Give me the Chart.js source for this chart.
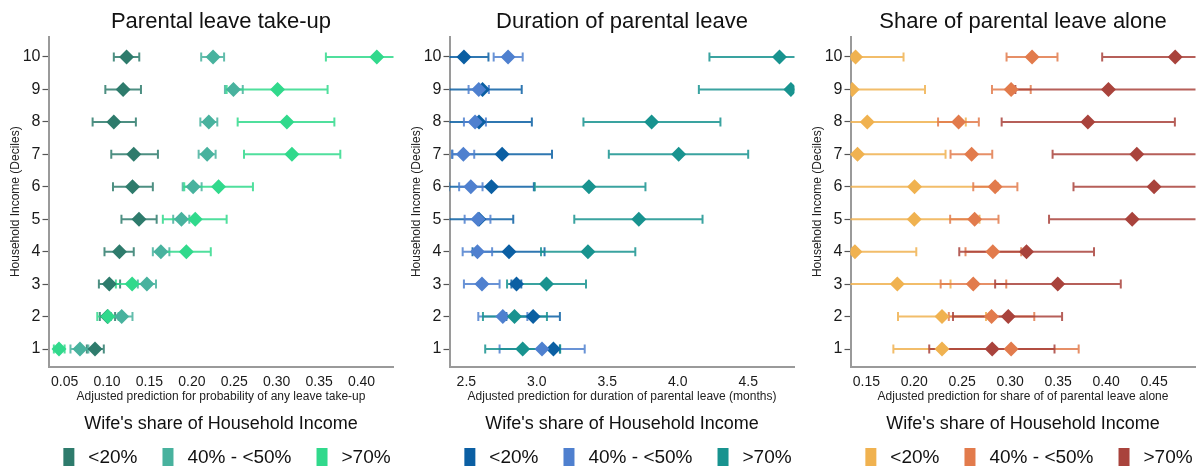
<!DOCTYPE html>
<html>
<head>
<meta charset="utf-8">
<script src="https://cdn.jsdelivr.net/npm/chart.js@4.4.1/dist/chart.umd.min.js"></script>
<style>
  html, body { margin: 0; padding: 0; background: #fff; }
  .panel { position: absolute; top: 0; width: 401px; height: 468px; }
  canvas { display: block; }
</style>
</head>
<body>
<div class="panel" style="left:0px"><canvas id="takeup" width="401" height="468"></canvas></div>
<div class="panel" style="left:401px"><canvas id="duration" width="401" height="468"></canvas></div>
<div class="panel" style="left:802px"><canvas id="alone" width="401" height="468"></canvas></div>
<script>
// ---- shared labels ----
const deciles = [1, 2, 3, 4, 5, 6, 7, 8, 9, 10];
const groupLabels = ['<20%', '40% - <50%', '>70%'];
const legendTitle = "Wife's share of Household Income";
const yAxisTitle = 'Household Income (Deciles)';

// ---- Parental leave take-up (probability) ----
const takeupTicks = [0.05, 0.10, 0.15, 0.20, 0.25, 0.30, 0.35, 0.40];
const takeupLt20   = [0.0858, 0.1005, 0.1027, 0.1146, 0.1377, 0.1300, 0.1315, 0.1080, 0.1190, 0.1230];
const takeupLt20Lo = [0.0762, 0.0915, 0.0904, 0.0970, 0.1170, 0.1070, 0.1050, 0.0830, 0.0980, 0.1080];
const takeupLt20Hi = [0.0962, 0.1095, 0.1154, 0.1315, 0.1585, 0.1540, 0.1600, 0.1340, 0.1400, 0.1380];
const takeupMid    = [0.0681, 0.1173, 0.1470, 0.1635, 0.1877, 0.2015, 0.2180, 0.2200, 0.2490, 0.2250];
const takeupMidLo  = [0.0569, 0.1046, 0.1363, 0.1540, 0.1780, 0.1892, 0.2080, 0.2100, 0.2390, 0.2110];
const takeupMidHi  = [0.0780, 0.1300, 0.1577, 0.1735, 0.1970, 0.2115, 0.2280, 0.2300, 0.2600, 0.2380];
const takeupGt70   = [0.0434, 0.1011, 0.1296, 0.1935, 0.2040, 0.2315, 0.3180, 0.3120, 0.3010, 0.4180];
const takeupGt70Lo = [0.0373, 0.0885, 0.1104, 0.1647, 0.1658, 0.1910, 0.2615, 0.2540, 0.2410, 0.3580];
const takeupGt70Hi = [0.0500, 0.1137, 0.1488, 0.2223, 0.2410, 0.2720, 0.3750, 0.3680, 0.3600, 0.4780];

// ---- Duration of parental leave (months) ----
const durationTicks = [2.5, 3.0, 3.5, 4.0, 4.5];
const durationLt20   = [3.118, 2.974, 2.856, 2.803, 2.590, 2.678, 2.754, 2.590, 2.615, 2.483];
const durationLt20Lo = [3.040, 2.784, 2.820, 2.544, 2.347, 2.377, 2.400, 2.215, 2.337, 2.309];
const durationLt20Hi = [3.164, 3.164, 2.890, 3.055, 2.833, 2.979, 3.108, 2.965, 2.893, 2.657];
const durationMid    = [3.037, 2.759, 2.611, 2.579, 2.583, 2.532, 2.479, 2.562, 2.588, 2.796];
const durationMidLo  = [2.736, 2.585, 2.483, 2.474, 2.488, 2.449, 2.400, 2.483, 2.516, 2.694];
const durationMidHi  = [3.340, 2.933, 2.736, 2.683, 2.671, 2.615, 2.556, 2.639, 2.660, 2.900];
const durationGt70   = [2.900, 2.842, 3.069, 3.363, 3.724, 3.370, 4.007, 3.815, 4.803, 4.722];
const durationGt70Lo = [2.634, 2.618, 2.789, 3.030, 3.266, 2.986, 3.511, 3.331, 4.150, 4.225];
const durationGt70Hi = [3.166, 3.072, 3.349, 3.699, 4.176, 3.771, 4.500, 4.303, 5.450, 5.219];

// ---- Share of parental leave taken alone ----
const aloneTicks = [0.15, 0.20, 0.25, 0.30, 0.35, 0.40, 0.45];
const aloneLt20   = [0.2289, 0.2289, 0.1823, 0.1381, 0.2000, 0.2003, 0.1408, 0.1510, 0.1353, 0.1388];
const aloneLt20Lo = [0.1782, 0.1830, 0.1268, 0.0740, 0.1320, 0.1136, 0.0490, 0.0483, 0.0594, 0.0888];
const aloneLt20Hi = [0.2796, 0.2748, 0.2378, 0.2021, 0.2680, 0.2870, 0.2326, 0.2537, 0.2112, 0.1888];
const aloneMid    = [0.3010, 0.2806, 0.2615, 0.2819, 0.2629, 0.2843, 0.2598, 0.2462, 0.3010, 0.3228];
const aloneMidLo  = [0.2306, 0.2360, 0.2275, 0.2534, 0.2374, 0.2615, 0.2378, 0.2248, 0.2810, 0.2962];
const aloneMidHi  = [0.3714, 0.3251, 0.2959, 0.3115, 0.2878, 0.3075, 0.2813, 0.2673, 0.3214, 0.3493];
const aloneGt70   = [0.2812, 0.2980, 0.3496, 0.3170, 0.4272, 0.4500, 0.4320, 0.3810, 0.4024, 0.4720];
const aloneGt70Lo = [0.2156, 0.2404, 0.2843, 0.2469, 0.3405, 0.3660, 0.3442, 0.2911, 0.3054, 0.3959];
const aloneGt70Hi = [0.3462, 0.3541, 0.4153, 0.3874, 0.5140, 0.5340, 0.5200, 0.4717, 0.4994, 0.5480];

// ---- palettes ----
const greenPalette  = ['#2e7b6c', '#48b29e', '#31d98c'];
const bluePalette   = ['#0b5fa3', '#4f80cf', '#18938f'];
const orangePalette = ['#f0b250', '#e27b4c', '#a9433c'];

const FONT = "'Liberation Sans', Arial, Helvetica, sans-serif";
Chart.defaults.font.family = FONT;
Chart.defaults.color = '#1a1a1a';

// horizontal confidence intervals with end caps, drawn beneath the markers
const ciBars = {
  id: 'ciBars',
  beforeDatasetsDraw(chart) {
    const { ctx, chartArea: a, scales: { x, y } } = chart;
    ctx.save();
    ctx.beginPath();
    ctx.rect(a.left, a.top, a.right - a.left, a.bottom - a.top);
    ctx.clip();
    ctx.lineCap = 'butt';
    chart.data.datasets.forEach(ds => {
      ctx.strokeStyle = ds.ciColor;
      ctx.lineWidth = 2;
      ds.data.forEach(p => {
        const py = y.getPixelForValue(p.y);
        const x0 = x.getPixelForValue(p.lo);
        const x1 = x.getPixelForValue(p.hi);
        ctx.beginPath();
        ctx.moveTo(x0, py); ctx.lineTo(x1, py);
        ctx.moveTo(x0, py - 4.5); ctx.lineTo(x0, py + 4.5);
        ctx.moveTo(x1, py - 4.5); ctx.lineTo(x1, py + 4.5);
        ctx.stroke();
      });
    });
    ctx.restore();
  }
};

// panel heading, axis titles and the legend underneath
const panelText = {
  id: 'panelText',
  afterDraw(chart, args, opts) {
    const { ctx, chartArea: a } = chart;
    const cx = (a.left + a.right) / 2;
    ctx.save();
    ctx.fillStyle = '#111';
    ctx.textAlign = 'center';
    ctx.textBaseline = 'alphabetic';
    ctx.font = '22px ' + FONT;
    ctx.fillText(opts.title, cx, 28);

    ctx.font = '12px ' + FONT;
    ctx.fillStyle = '#222';
    ctx.fillText(opts.xTitle, cx, 400);

    ctx.save();
    ctx.translate(19, (a.top + a.bottom) / 2);
    ctx.rotate(-Math.PI / 2);
    ctx.fillText(yAxisTitle, 0, 0);
    ctx.restore();

    ctx.fillStyle = '#111';
    ctx.font = '18px ' + FONT;
    ctx.textBaseline = 'middle';
    ctx.fillText(legendTitle, cx, 424);

    ctx.font = '19px ' + FONT;
    const boxW = 11, boxH = 18, gapBox = 14, gapItem = 25;
    const widths = groupLabels.map(t => ctx.measureText(t).width);
    const total = widths.reduce((s, w) => s + w, 0) + groupLabels.length * (boxW + gapBox) + (groupLabels.length - 1) * gapItem;
    let xPos = cx + 6 - total / 2;
    const cy = 457;
    ctx.textAlign = 'left';
    groupLabels.forEach((t, i) => {
      ctx.fillStyle = opts.colors[i];
      ctx.fillRect(xPos, cy - boxH / 2, boxW, boxH);
      xPos += boxW + gapBox;
      ctx.fillStyle = '#111';
      ctx.fillText(t, xPos, cy + 1);
      xPos += widths[i] + gapItem;
    });
    ctx.restore();
  }
};

function buildDatasets(series, colors) {
  return series.map((s, i) => ({
    label: groupLabels[i],
    // later groups sit on top of earlier ones
    order: series.length - 1 - i,
    data: deciles.map((d, k) => ({ x: s.est[k], y: d, lo: s.lo[k], hi: s.hi[k] })),
    pointStyle: 'rectRot',
    pointRadius: 7.5,
    pointHoverRadius: 7.5,
    pointBorderWidth: 0,
    backgroundColor: colors[i],
    borderColor: colors[i],
    ciColor: colors[i] + 'd9',
    showLine: false
  }));
}

function makePanel(id, cfg) {
  new Chart(document.getElementById(id), {
    type: 'scatter',
    data: { datasets: buildDatasets(cfg.series, cfg.colors) },
    plugins: [ciBars, panelText],
    options: {
      responsive: false,
      animation: false,
      events: [],
      layout: { padding: { top: 36.7, bottom: 71.3, left: 0, right: 0 } },
      plugins: {
        legend: { display: false },
        tooltip: { enabled: false },
        panelText: { title: cfg.title, xTitle: cfg.xTitle, colors: cfg.colors }
      },
      scales: {
        x: {
          type: 'linear',
          min: cfg.min,
          max: cfg.max,
          afterFit: s => { s.height = 30; },
          afterBuildTicks: s => { s.ticks = cfg.ticks.map(v => ({ value: v })); },
          ticks: {
            autoSkip: false,
            maxRotation: 0,
            padding: 7,
            font: { size: 14 },
            color: '#1a1a1a',
            callback: v => v.toFixed(cfg.decimals)
          },
          grid: { drawOnChartArea: false, drawTicks: false },
          border: { display: true, color: '#9a9a9a', width: 2 }
        },
        y: {
          type: 'linear',
          min: 0.455,
          max: 10.625,
          afterFit: s => { s.width = 48.5; },
          afterBuildTicks: s => { s.ticks = deciles.map(v => ({ value: v })); },
          ticks: {
            autoSkip: false,
            padding: 2,
            font: { size: 16 },
            color: '#1a1a1a',
            callback: v => String(v)
          },
          grid: { drawOnChartArea: false, drawTicks: true, tickLength: 6, color: '#555', tickColor: '#555', tickWidth: 1.2 },
          border: { display: true, color: '#9a9a9a', width: 2 }
        }
      }
    }
  });
}

makePanel('takeup', {
  title: 'Parental leave take-up',
  xTitle: 'Adjusted prediction for probability of any leave take-up',
  min: 0.031, max: 0.4377, ticks: takeupTicks, decimals: 2,
  colors: greenPalette,
  series: [
    { est: takeupLt20, lo: takeupLt20Lo, hi: takeupLt20Hi },
    { est: takeupMid, lo: takeupMidLo, hi: takeupMidHi },
    { est: takeupGt70, lo: takeupGt70Lo, hi: takeupGt70Hi }
  ]
});

makePanel('duration', {
  title: 'Duration of parental leave',
  xTitle: 'Adjusted prediction for duration of parental leave (months)',
  min: 2.3806, max: 4.8286, ticks: durationTicks, decimals: 1,
  colors: bluePalette,
  series: [
    { est: durationLt20, lo: durationLt20Lo, hi: durationLt20Hi },
    { est: durationMid, lo: durationMidLo, hi: durationMidHi },
    { est: durationGt70, lo: durationGt70Lo, hi: durationGt70Hi }
  ]
});

makePanel('alone', {
  title: 'Share of parental leave alone',
  xTitle: 'Adjusted prediction for share of of parental leave alone',
  min: 0.1335, max: 0.4932, ticks: aloneTicks, decimals: 2,
  colors: orangePalette,
  series: [
    { est: aloneLt20, lo: aloneLt20Lo, hi: aloneLt20Hi },
    { est: aloneMid, lo: aloneMidLo, hi: aloneMidHi },
    { est: aloneGt70, lo: aloneGt70Lo, hi: aloneGt70Hi }
  ]
});
</script>
</body>
</html>
